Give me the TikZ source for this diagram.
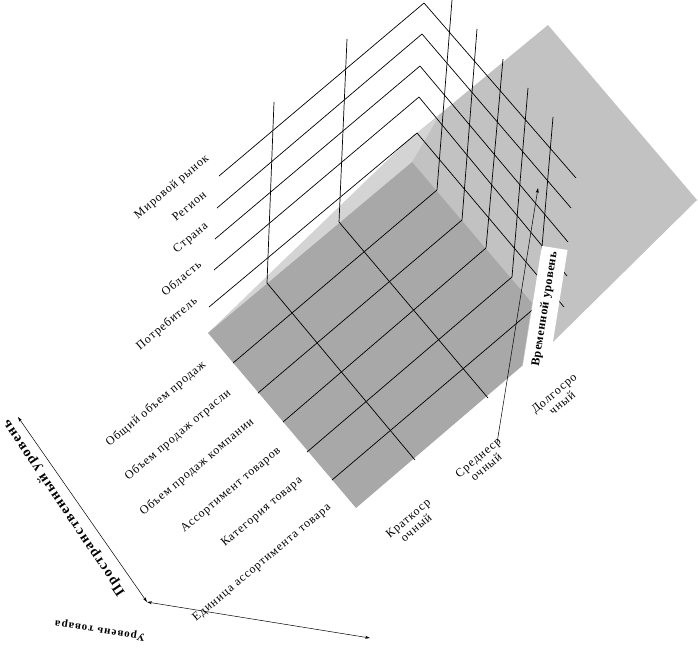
\documentclass[tikz,border=0pt]{standalone}
\usepackage{fontspec}
\setmainfont{Liberation Serif}
\usetikzlibrary{arrows.meta}
\definecolor{planegray}{gray}{0.76}
\definecolor{bandgray}{gray}{0.83}
\definecolor{floorgray}{gray}{0.66}

\begin{document}
\begin{tikzpicture}[x=1pt,y=-1pt,line width=0.7pt]
  \tikzstyle{lvllabel}=[font=\fontsize{12}{12.5}\selectfont\addfontfeatures{LetterSpace=8},
rotate=40,inner sep=0pt,align=center]
  \tikzstyle{axisarrow}=[{Stealth[length=5pt,width=3pt]}-{Stealth[length=5pt,width=3pt]},line width=0.5pt]
  \tikzstyle{axislabel}=[font=\bfseries\fontsize{14}{14}\selectfont\addfontfeatures{LetterSpace=10},inner sep=0pt]
  \tikzstyle{timebox}=[fill=white,rotate=81,minimum height=26pt,inner xsep=4pt,
font=\bfseries\fontsize{12}{12}\selectfont\addfontfeatures{LetterSpace=5}]
  \useasboundingbox (0,0) rectangle (698,665);

  % planes of the cube
  \fill[planegray] (548,25) -- (697,200) -- (553,342) -- (522,366) -- (412,162) -- (400,147) -- cycle;
  \fill[bandgray] (208,333) -- (400,148) -- (440,114) -- (412,162) -- cycle;
  \fill[floorgray] (208,333) -- (412,162) -- (532,303) -- (522,366) -- (356,508) -- cycle;

  % grid
  \draw (415,460) -- (267,283) -- (274,102);
  \draw (488,398) -- (339,222) -- (347,39);
  \draw (233,363) -- (437,190) -- (452,0);
  \draw (258,393) -- (462,220) -- (477,29);
  \draw (283,422) -- (486,248) -- (503,59);
  \draw (307,452) -- (512,277) -- (528,88);
  \draw (332,480) -- (537,306) -- (553,117);

  \draw (219,176) -- (424,3) -- (576,178);
  \draw (217,208) -- (422,34) -- (571,208);
  \draw (215,239) -- (420,66) -- (568,242);
  \draw (214,270) -- (419,97) -- (567,276);
  \draw (209,307) -- (417,133) -- (564,307);

  % time axis
  \coordinate (t0) at (497,443);
  \coordinate (t1) at (538,188);
  \draw[-{Stealth[length=5pt,width=3pt]},line width=0.5pt] (t0) -- (t1);
  \node[timebox] (timelbl) at (545,309) {Временной уровень\hspace{26pt}};

  % spatial levels
  \node[lvllabel] (mir) at (172,187) {Мировой рынок};
  \node[lvllabel] (reg) at (189,206) {Регион};
  \node[lvllabel] (str) at (191,238) {Страна};
  \node[lvllabel] (obl) at (181,278) {Область};
  \node[lvllabel] (potr) at (167,324) {Потребитель};

  % product levels
  \node[lvllabel] (obsh) at (156,404) {Общий объем продаж};
  \node[lvllabel] (otr) at (178,435) {Объем продаж отрасли};
  \node[lvllabel] (komp) at (197,467) {Объем продаж компании};
  \node[lvllabel] (assort) at (231,490) {Ассортимент товаров};
  \node[lvllabel] (kat) at (262,512) {Категория товара};
  \node[lvllabel] (ed) at (262,563) {Единица ассортимента товара};

  % time levels
  \node[lvllabel] (krat) at (412,523) {Краткоср\\очный};
  \node[lvllabel] (sred) at (482,462) {Среднеср\\очный};
  \node[lvllabel] (dolg) at (558,398) {Долгосро\\чный};

  % axes
  \coordinate (o) at (147,602);
  \coordinate (sp) at (18,417);
  \coordinate (pr) at (370,638);
  \draw[axisarrow] (sp) -- (o);
  \draw[axisarrow] (o) -- (pr);
  \node[axislabel,rotate=124] (splbl) at (64,508) {Пространственный уровень};
  \node[axislabel,rotate=171,font=\bfseries\fontsize{11}{11}\selectfont\addfontfeatures{LetterSpace=10}] (prlbl) at (100,630) {Уровень товара};
\end{tikzpicture}
\end{document}
